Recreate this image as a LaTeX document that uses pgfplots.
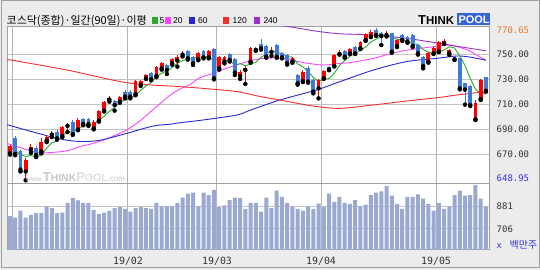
\documentclass[border=0pt]{standalone}
\usepackage{pgfplots}
\usepackage{pgfplotstable}
\pgfplotsset{compat=1.18}
\usepackage{fontspec}
\setmainfont{Liberation Sans}
\newfontfamily\kr{Noto Sans CJK KR}
\newfontfamily\mono{DejaVu Sans Mono}
\definecolor{bgc}{RGB}{236,236,236}
\definecolor{framec}{RGB}{160,160,160}
\definecolor{gridc}{RGB}{196,196,196}
\definecolor{vgridc}{RGB}{180,180,180}
\definecolor{cup}{RGB}{255,0,0}
\definecolor{cdn}{RGB}{62,122,216}
\definecolor{volc}{RGB}{155,168,208}
\definecolor{maf}{RGB}{40,170,40}
\definecolor{mat}{RGB}{255,70,255}
\definecolor{mas}{RGB}{40,40,210}
\definecolor{mao}{RGB}{245,45,45}
\definecolor{matw}{RGB}{150,50,200}
\definecolor{lorange}{RGB}{230,120,40}
\definecolor{lblue}{RGB}{50,50,220}
\definecolor{ltext}{RGB}{50,50,50}
\definecolor{logoblue}{RGB}{50,100,210}
\definecolor{wma}{RGB}{200,200,200}
\definecolor{wmb}{RGB}{222,222,222}

\pgfplotstableread{
i O H L C
0 670.5 677.5 669.5 676.4
3 656 666.5 648.95 665
4 673.5 678 671 675.5
6 672 682.5 670.5 679.9
7 680.7 685.5 679.5 683.9
8 685.5 688.5 683.5 686.5
10 684.4 692.5 683.5 691.3
11 692.5 694.5 687.5 693.5
13 689.7 698.5 689 697.2
16 690.5 697 689.7 695.9
17 696.7 705.5 695.9 704.7
18 704.7 712.5 704 711.9
19 713.5 716.3 711.9 714.5
21 711.9 716.5 711 715.9
24 718 729 717 728.4
25 725.2 729.5 724.5 728.4
26 730.5 734 730 733.2
28 732.4 740.5 731.5 739.9
29 738.5 743.5 737.5 742.5
31 742.5 746.5 741.5 745.7
32 744.7 749 739.9 747.9
33 749.5 752 748 750.5
36 745.7 751.5 745 750.5
38 747.3 753.2 746.5 752.4
40 738.5 748.5 737.5 747.9
41 743.9 748.5 742.5 747.3
44 732.4 737 730 735.9
45 737.2 740 726 739
46 743.9 755.5 743 754.5
50 751.6 755.3 748.4 753.2
54 743.9 747.5 743 746.5
56 728.4 737 727.5 735.9
59 722.5 730 714.5 729.2
60 730.5 737.5 730 736.7
62 740.4 750 740 749.2
63 750 753 749.5 751.9
65 750.5 754.5 750 753.7
67 754.5 760.5 754 759.9
68 761.2 766.8 760.5 766
69 763.9 769.2 763.5 767.9
72 765 768 764 767
74 756.4 762 755.5 761.2
80 743.9 751.5 743 750.5
81 750.5 755.5 750 754.5
82 751.9 760.5 751.5 759.9
83 758.5 761.7 758 760.7
84 750.5 754 749.2 753.2
89 697.7 713.5 697.2 710.5
90 714 730 713.2 729.2
}\upT

\pgfplotstableread{
i O H L C
1 683 684.5 669 670
2 672 673 656 657.5
5 674.5 676 667.5 669.2
9 687.9 689 681.5 682.5
12 695.9 697.2 685.2 686
14 698 699 693 694
15 698 699 692.5 694
20 712.4 713.5 704.7 709.2
22 719.9 721 714.5 715.9
23 719.9 721 714.5 715.9
27 734.5 735.5 729 729.7
30 741.2 742 734 737.2
34 752.7 753.5 745.5 746.5
35 747.3 748 741.2 742.5
37 752.4 753.2 746.5 747.3
39 753.7 754.5 729.7 730.5
42 749.7 750.5 744 745.2
43 745.7 746.5 733.2 735.1
47 754.5 755.9 752.5 753.2
48 758 761.7 753.5 754.5
49 756.4 757.2 747 747.9
51 757.2 758 747 747.9
52 750.5 751.5 746.5 747.3
53 749.2 750 741.5 742.5
55 733.2 734 725.5 726.5
57 739 740 727 727.9
58 729.2 730 718.5 719.9
61 739.9 740.5 737 737.7
64 752.4 753 747 747.9
66 755.9 756.5 750 750.5
70 769.2 770.65 764.5 765.2
71 767 767.5 757.2 764.4
73 766.5 767 751 751.9
75 765.2 766 760.5 761.2
76 763.9 764.5 759 759.9
77 765.2 766 755.5 756.4
78 757.2 758 749.5 750.5
79 747.9 748.5 738.5 740.4
85 746.5 748.4 745.2 745.8
86 746.5 747 721.7 722.5
87 726.5 727 709.5 721.5
88 724 725 708.4 709
91 731.2 731.8 719.9 720.5
}\dnT

\pgfplotstableread{
i V
0 801
1 788
2 845
3 788
4 810
5 824
6 824
7 878
8 865
9 824
10 829
11 906
12 943
13 925
14 906
15 906
16 851
17 816
18 829
19 843
20 865
21 873
22 859
23 837
24 865
25 873
26 865
27 859
28 906
29 878
30 878
31 878
32 906
33 947
34 980
35 988
36 878
37 988
38 968
39 1009
40 872
41 886
42 927
43 947
44 943
45 857
46 906
47 906
48 837
49 947
50 865
51 1003
52 954
53 906
54 878
55 859
56 845
57 878
58 859
59 900
60 872
61 980
62 914
63 954
64 906
65 898
66 927
67 878
68 892
69 967
70 988
71 997
72 1039
73 963
74 898
75 859
76 954
77 954
78 974
79 939
80 898
81 845
82 906
83 859
84 878
85 967
86 1003
87 963
88 967
89 1048
90 939
91 878
}\volT

\pgfplotsset{
  panel/.style={
    scale only axis, width=482bp,
    xmin=-0.574, xmax=91.59,
    axis line style={framec, line width=1bp},
    axis background/.style={fill=white},
    major tick length=0pt,
    xtick={0.5,22.5,39.5,59.5,81.5}, xticklabel=\empty, yticklabel=\empty,
    tick label style={inner sep=0pt, font=\tiny},
    xmajorgrids, ymajorgrids,
    x grid style={vgridc, line width=0.9bp},
    y grid style={gridc, line width=0.8bp},
    clip=true,
  },
  wick/.style={only marks, mark=none, error bars/.cd, y dir=plus, y explicit,
    error mark=none, error bar style={line width=1bp, color=#1}},
  body/.style={only marks, mark=none, error bars/.cd, y dir=plus, y explicit,
    error mark=none, error bar style={line width=3.8bp, color=#1}},
}

\begin{document}
\begin{tikzpicture}
\fill[bgc] (0bp,0bp) rectangle (540bp,270bp);
\draw[framec, line width=0.8bp] (0.9bp,3bp) rectangle (539.2bp,269.4bp);

% price panel
\begin{axis}[panel, at={(7bp,86bp)}, anchor=south west, height=157bp,
  ymin=646, ymax=771.6, ytick={670,690,710,730,750}]
\addplot[mat, line width=0.9bp, smooth] coordinates {(-0.6,678.5) (2,675) (4.5,672) (7,671) (10.8,672.5) (13.4,676) (15.9,678.5) (19,683) (22.3,689.2) (25,697) (27.4,705.7) (30.6,717) (32.5,722) (34.4,725.5) (36.3,731) (38.9,734.5) (41,738) (43.3,741.2) (45.8,744.5) (48.4,746.5) (52.3,746.5) (56.1,743.1) (59.9,741.2) (63.1,742.5) (65,743.1) (69.5,746.5) (72.5,750) (75.8,753) (80.3,755.5) (84.1,757) (87.3,753.5) (89.5,748.5) (91,745)};
\addplot[mas, line width=0.9bp, smooth] coordinates {(-0.6,693.5) (4.5,687.5) (9.6,682) (13.4,680) (17.2,681) (22.3,686.5) (27.4,692.4) (30.6,693.8) (32.5,695) (36.9,697.2) (43.4,701.2) (45.9,705) (51.6,713.2) (58.6,721.2) (63.1,727.9) (69.5,737.2) (75.8,743.9) (81.6,746.5) (85.4,748.4) (88,747.5) (91,745)};
\addplot[mao, line width=0.9bp, smooth] coordinates {(-0.6,745.7) (10.9,737.2) (22.4,727) (32.5,723.9) (36.9,722.5) (43.4,719.9) (47.8,716) (51.6,713.2) (57.9,708.4) (63.1,706.5) (69.4,709.2) (75.9,712.4) (82.2,715.3) (86,717.5) (91.2,719.9)};
\addplot[matw, line width=0.9bp, smooth] coordinates {(50,774) (55.4,770.5) (59,768) (63.1,766.2) (69.5,765.2) (75.8,762.5) (82.2,758.5) (86,755.8) (91,752.6)};
\addplot[maf, line width=0.9bp] coordinates {(0,675.5) (1,673) (2,669.5) (3,668) (4,668.9) (5,667.4) (6,669.4) (7,674.7) (8,679.0) (9,680.4) (10,684.8) (11,687.5) (12,688.0) (13,690.1) (14,692.4) (15,692.9) (16,693.4) (17,697.2) (18,700.1) (19,704.2) (20,707.2) (21,711.2) (22,713.5) (23,714.3) (24,717.1) (25,720.9) (26,724.4) (27,727.1) (28,731.9) (29,734.7) (30,736.5) (31,739.0) (32,742.6) (33,744.8) (34,745.6) (35,746.6) (36,747.6) (37,747.5) (38,747.8) (39,744.6) (40,745.7) (41,745.1) (42,744.7) (43,741.2) (44,742.3) (45,740.5) (46,741.9) (47,743.5) (48,747.4) (49,749.8) (50,752.7) (51,751.3) (52,750.2) (53,747.8) (54,747.5) (55,742.1) (56,739.7) (57,735.9) (58,731.3) (59,727.9) (60,729.9) (61,730.3) (62,734.5) (63,740.9) (64,744.7) (65,748.1) (66,750.6) (67,752.8) (68,755.6) (69,759.6) (70,761.9) (71,764.7) (72,766.1) (73,763.3) (74,761.9) (75,761.1) (76,760.2) (77,758.1) (78,757.8) (79,753.7) (80,751.5) (81,750.5) (82,751.2) (83,753.2) (84,755.8) (85,754.8) (86,748.4) (87,740.7) (88,730.4) (89,721.9) (90,718.5) (91,718.1)};
% candles
\addplot[wick=cup] table[x=i, y=L, y error plus expr=\thisrow{H}-\thisrow{L}] {\upT};
\addplot[body=cup] table[x=i, y=O, y error plus expr=\thisrow{C}-\thisrow{O}] {\upT};
\addplot[wick=cdn] table[x=i, y=L, y error plus expr=\thisrow{H}-\thisrow{L}] {\dnT};
\addplot[body=cdn] table[x=i, y=C, y error plus expr=\thisrow{O}-\thisrow{C}] {\dnT};
\end{axis}

% volume panel
\begin{axis}[panel, at={(7bp,20bp)}, anchor=south west, height=66bp,
  ymin=531, ymax=1056, ytick={706,881}]
\addplot[ybar, bar width=4bp, fill=volc, draw=none] table[x=i, y=V] {\volT};
\end{axis}

% watermark
\node[anchor=base west, inner sep=0, text=wma] at (26bp,88.5bp)
  {\fontsize{7}{7}\selectfont www.\bfseries\fontsize{13}{13}\selectfont T\fontsize{10.5}{10.5}\selectfont HINK\textcolor{wmb}{\fontsize{13}{13}\selectfont P\fontsize{10.5}{10.5}\selectfont OOL}\mdseries\fontsize{8}{8}\selectfont .com};

% title
\node[anchor=base west, inner sep=0, font=\kr\fontsize{11}{11}\selectfont] at (6.5bp,245.7bp) {코스닥(종합)·일간(90일)·이평};
\fill[maf] (152.3bp,246bp) rectangle (158.3bp,252.5bp);
\node[anchor=base west, inner sep=0, font=\fontsize{8.5}{8.5}\selectfont] at (159.5bp,246bp) {5};
\fill[mat] (164.5bp,246bp) rectangle (170.5bp,252.5bp);
\node[anchor=base west, inner sep=0, font=\fontsize{8.5}{8.5}\selectfont] at (173bp,246bp) {20};
\fill[mas] (189.3bp,246bp) rectangle (195.3bp,252.5bp);
\node[anchor=base west, inner sep=0, font=\fontsize{8.5}{8.5}\selectfont] at (198bp,246bp) {60};
\fill[mao] (222.5bp,246bp) rectangle (228.5bp,252.5bp);
\node[anchor=base west, inner sep=0, font=\fontsize{8.5}{8.5}\selectfont] at (232.5bp,246bp) {120};
\fill[matw] (254bp,246bp) rectangle (260bp,252.5bp);
\node[anchor=base west, inner sep=0, font=\fontsize{8.5}{8.5}\selectfont] at (263.3bp,246bp) {240};

% logo
\node[anchor=base west, inner sep=0, font=\bfseries] at (418bp,245.6bp)
  {\fontsize{13}{13}\selectfont T\fontsize{11.5}{11.5}\selectfont HINK};
\fill[logoblue] (457bp,245bp) rectangle (490bp,257bp);
\node[anchor=base west, inner sep=0, text=white, font=\bfseries\fontsize{11}{11}\selectfont] at (458.3bp,246.6bp) {POOL};

% right labels
\begin{scope}[every node/.style={anchor=west, inner sep=0, font=\mono\fontsize{9}{9}\selectfont, text=ltext}]
\node[text=lorange] at (496.5bp,240bp) {770.65};
\node at (496.5bp,216bp) {750.00};
\node at (496.5bp,191bp) {730.00};
\node at (496.5bp,166bp) {710.00};
\node at (496.5bp,141bp) {690.00};
\node at (496.5bp,116bp) {670.00};
\node[text=lblue] at (496.5bp,91.5bp) {648.95};
\node at (496.5bp,63.3bp) {881};
\node at (496.5bp,41bp) {706};
\node[text=lblue] at (496.5bp,25.7bp) {x {\kr\fontsize{10}{10}\selectfont\ 백만주}};
\end{scope}

% x labels
\begin{scope}[every node/.style={anchor=center, inner sep=0, font=\mono\fontsize{10}{10}\selectfont, text=ltext}]
\node at (128bp,8.3bp) {19/02};
\node at (217bp,8.3bp) {19/03};
\node at (321bp,8.3bp) {19/04};
\node at (436bp,8.3bp) {19/05};
\end{scope}
\pgfresetboundingbox
\path (0bp,0bp) rectangle (540bp,270bp);
\end{tikzpicture}
\end{document}
